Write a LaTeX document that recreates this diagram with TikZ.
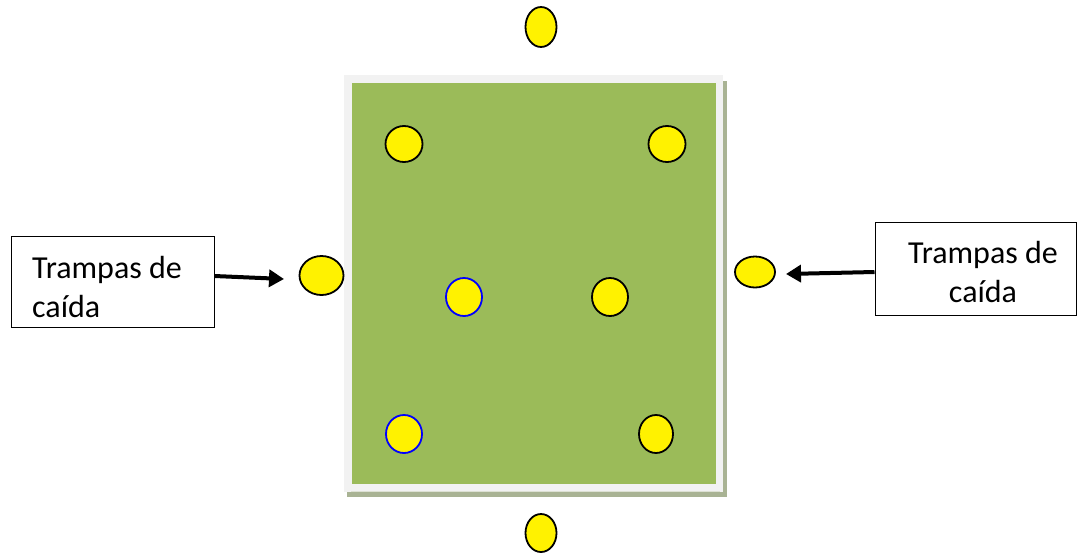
\documentclass[tikz,border=0pt]{standalone}
\usepackage{fontspec}
\setmainfont{Carlito}
\usetikzlibrary{shapes.geometric,arrows.meta}
\definecolor{fieldgreen}{HTML}{9BBB59}
\definecolor{framegray}{HTML}{F2F2F2}
\definecolor{shadowgray}{HTML}{A9B394}
\definecolor{trapblue}{HTML}{0000FF}
\tikzset{
  trap/.style={ellipse, fill=yellow, draw=black, line width=1.8pt, inner sep=0pt},
  traphl/.style={trap, draw=trapblue},
  labelbox/.style={draw=black, line width=1pt, inner sep=0pt},
  labeltext/.style={font=\fontsize{32}{39}\selectfont, inner sep=0pt},
  pointer/.style={line width=4pt, -{Triangle[length=15pt,width=17pt]}}
}
\begin{document}
\begin{tikzpicture}[x=1pt,y=-1pt]
\useasboundingbox (0,0) rectangle (1078,554);
% field with frame and shadow
\fill[shadowgray] (347,81) rectangle (727,497);
\fill[framegray] (344,75) rectangle (723,492);
\draw[color=shadowgray!40, line width=0.8pt] (351,491) -- (720,491);
\fill[fieldgreen] (352,83) rectangle (716,484);
% traps
\node[trap, minimum width=31pt, minimum height=40pt] (top) at (541,27) {};
\node[trap, minimum width=31pt, minimum height=38pt] (bottom) at (541,533) {};
\node[trap, minimum width=37pt, minimum height=36pt] (tl) at (404,144) {};
\node[trap, minimum width=37pt, minimum height=36pt] (tr) at (667,144) {};
\node[trap, minimum width=44pt, minimum height=39pt] (lout) at (321.5,275.5) {};
\node[trap, minimum width=40pt, minimum height=31pt] (rout) at (755,272) {};
\node[traphl, minimum width=36pt, minimum height=38pt] (ml) at (464,297) {};
\node[trap, minimum width=36pt, minimum height=38pt] (mr) at (610,297) {};
\node[traphl, minimum width=36pt, minimum height=38pt] (bl) at (404,434) {};
\node[trap, minimum width=34pt, minimum height=38pt] (br) at (656,434) {};
% label boxes
\node[labelbox, minimum width=203pt, minimum height=91pt] (lbox) at (112.5,281.5) {};
\node[labeltext, anchor=base west] (ltext1) at (32,278) {Trampas de};
\node[labeltext, anchor=base west] (ltext2) at (32,317) {caída};
\node[labelbox, minimum width=201pt, minimum height=93pt] (rbox) at (975.5,268.5) {};
\node[labeltext, anchor=base] (rtext1) at (983,263) {Trampas de};
\node[labeltext, anchor=base] (rtext2) at (983,302) {caída};
% arrows
\coordinate (ltip) at (284,279);
\coordinate (rtip) at (786,274);
\draw[pointer] (lbox.east |- 0,276) -- (ltip);
\draw[pointer] (rbox.west |- 0,272) -- (rtip);
\end{tikzpicture}
\end{document}
